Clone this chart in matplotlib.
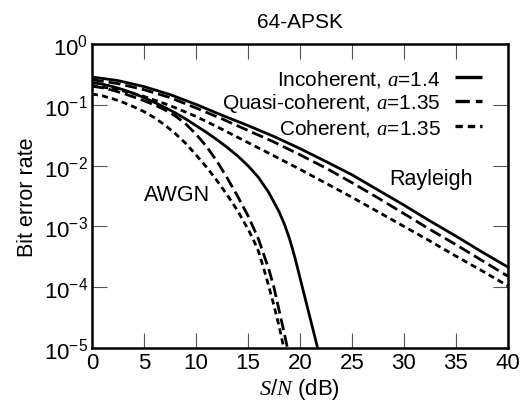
import numpy as np
import matplotlib
matplotlib.use("Agg")
import matplotlib.pyplot as plt

plt.rcParams["font.family"] = ["Liberation Sans", "DejaVu Sans"]
plt.rcParams["mathtext.fontset"] = "custom"
plt.rcParams["mathtext.rm"] = "Liberation Sans"
plt.rcParams["mathtext.it"] = "Liberation Serif:italic"

# S/N (dB) and bit error rate
snr_ray = [0, 2.5, 5, 7.5, 10, 12.5, 15, 17.5, 20, 22.5, 25, 27.5, 30, 32.5, 35, 37.5, 40]
ray_incoh = [0.288, 0.251, 0.200, 0.148, 0.102, 0.0676, 0.0457, 0.0302, 0.0191, 0.0117, 0.00708,
             0.00398, 0.00224, 0.00123, 0.000692, 0.00038, 0.000214]
ray_quasi = [0.260, 0.224, 0.178, 0.132, 0.0891, 0.0589, 0.0380, 0.0245, 0.0151, 0.00912, 0.00525,
             0.00295, 0.00162, 0.000891, 0.000501, 0.000275, 0.000151]
ray_coh = [0.209, 0.178, 0.138, 0.0977, 0.0646, 0.0398, 0.0240, 0.0145, 0.00871, 0.00513, 0.00302,
           0.00174, 0.001, 0.000575, 0.000324, 0.000186, 0.000105]

snr_awgn_incoh = [0, 1, 2, 3, 4, 5, 6, 7, 8, 9, 10, 11, 12, 13, 14, 15, 16, 17, 18, 18.5,
                  19, 19.5, 20, 20.5, 21, 21.5, 21.7]
awgn_incoh = [0.234, 0.219, 0.200, 0.178, 0.155, 0.132, 0.110, 0.0912, 0.0741, 0.0589, 0.0457,
              0.0355, 0.0269, 0.0200, 0.0145, 0.0100, 0.00646, 0.00363, 0.00174, 0.0011,
              0.00063, 0.000316, 0.000145, 0.000066, 0.0000302, 0.0000138, 0.00001]

snr_awgn_quasi = [0, 1, 2, 3, 4, 5, 6, 7, 8, 9, 10, 11, 12, 13, 14, 15, 16, 17, 17.5, 18, 18.5, 18.8]
awgn_quasi = [0.204, 0.191, 0.174, 0.155, 0.135, 0.117, 0.1, 0.0832, 0.0661, 0.049, 0.0331,
              0.0209, 0.012, 0.00631, 0.00316, 0.00151, 0.000631, 0.0002, 0.0001, 0.0000417,
              0.0000174, 0.00001]

snr_awgn_coh = [0, 1, 2, 3, 4, 5, 6, 7, 8, 9, 10, 11, 12, 13, 14, 15, 15.5, 16, 16.5, 17,
                17.5, 18, 18.45]
awgn_coh = [0.151, 0.141, 0.126, 0.110, 0.0933, 0.0776, 0.0617, 0.0468, 0.0339, 0.0234, 0.0151,
            0.00955, 0.00575, 0.00331, 0.00182, 0.000912, 0.000617, 0.000398, 0.000209, 0.000105,
            0.0000501, 0.0000229, 0.00001]

labels = ["Incoherent, $a$=1.4", "Quasi-coherent, $a$=1.35", "Coherent, $a$=1.35"]

lw = 2.0
solid = dict(color="black", lw=lw, solid_capstyle="butt")
long_dash = dict(color="black", lw=lw, dashes=(4.3, 1.8))
short_dash = dict(color="black", lw=lw, dashes=(2.2, 1.5))

fig = plt.figure(figsize=(5.22, 4.10), dpi=100)
ax = fig.add_axes([0.176, 0.149, 0.797, 0.741])

ax.plot(snr_ray, ray_incoh, label=labels[0], **solid)
ax.plot(snr_ray, ray_quasi, label=labels[1], **long_dash)
ax.plot(snr_ray, ray_coh, label=labels[2], **short_dash)
ax.plot(snr_awgn_incoh, awgn_incoh, **solid)
ax.plot(snr_awgn_quasi, awgn_quasi, **long_dash)
ax.plot(snr_awgn_coh, awgn_coh, **short_dash)

ax.set_yscale("log")
ax.set_xlim(0, 40)
ax.set_ylim(1e-5, 1)
ax.set_xticks(np.arange(0, 41, 5))
ax.set_yticks([1e-5, 1e-4, 1e-3, 1e-2, 1e-1, 1])
ax.yaxis.set_minor_locator(matplotlib.ticker.NullLocator())
ax.tick_params(direction="in", length=11, width=0.8, color="#555555",
               top=True, right=True, labelsize=16, pad=3)
for s in ax.spines.values():
    s.set_linewidth(1.8)

ax.set_xlabel("$S/N$ (dB)", fontsize=16, labelpad=2)
ax.set_ylabel("Bit error rate", fontsize=15.5, labelpad=4)
ax.set_title("64-APSK", fontsize=15, pad=12)

ax.text(8.2, 10**-2.48, "AWGN", fontsize=15.5, ha="center", va="center")
ax.text(32.6, 10**-2.22, "Rayleigh", fontsize=15.5, ha="center", va="center")

leg = ax.legend(loc="upper right", frameon=False, markerfirst=False, fontsize=15,
                handlelength=1.3, handletextpad=0.7, labelspacing=0.12,
                borderaxespad=0, bbox_to_anchor=(0.958, 0.95))
for line in leg.get_lines():
    line.set_linewidth(2.4)

fig.savefig("out.png", dpi=100)
